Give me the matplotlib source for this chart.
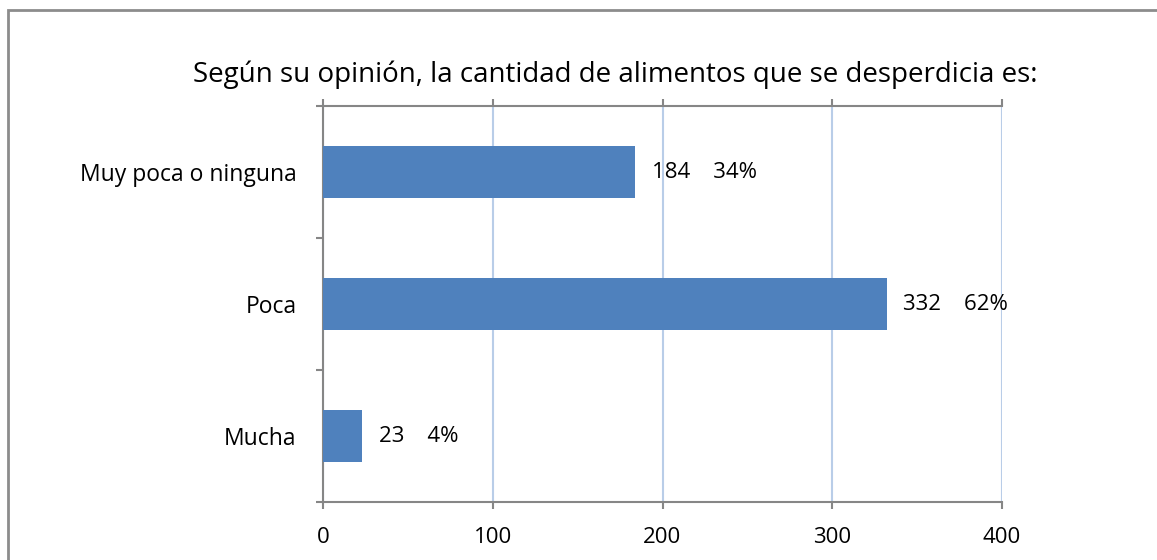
import matplotlib
matplotlib.use("Agg")
import matplotlib.pyplot as plt
from matplotlib.patches import Rectangle

plt.rcParams['font.family'] = ['Open Sans', 'DejaVu Sans']

# datos
categorias = ["Mucha", "Poca", "Muy poca o ninguna"]
valores = [23, 332, 184]
porcentajes = [4, 62, 34]
xticks = [0, 100, 200, 300, 400]
titulo = "Según su opinión, la cantidad de alimentos que se desperdicia es:"

azul = "#4F81BD"
gris = "#868686"
grid_azul = "#B9CDE8"

fig = plt.figure(figsize=(11.57, 5.6), dpi=100)
ax = fig.add_axes([323 / 1157, 58 / 560, 679 / 1157, 396 / 560])

# marco exterior (sale del lienzo por la derecha y abajo)
fig.patches.append(Rectangle((8 / 1157, -0.1), 1.2, 1 - 10 / 560 + 0.1,
                             transform=fig.transFigure, fill=False,
                             edgecolor="#8C8C8C", linewidth=2, zorder=0))

y = list(range(len(categorias)))
ax.barh(y, valores, height=0.4, color=azul, zorder=3)

for yi, v, p in zip(y, valores, porcentajes):
    ax.annotate(f"{v}    {p}%", xy=(v, yi), xytext=(12, 0), textcoords="offset points",
                va="center", ha="left", fontsize=16, color="black")

ax.set_xlim(0, 400)
ax.set_ylim(-0.5, 2.5)
ax.set_xticks(xticks)
ax.set_xticklabels([str(t) for t in xticks], fontsize=16)

ax.set_yticks(y)
ax.set_yticklabels(categorias, fontsize=16.5)
ax.set_yticks([-0.5, 0.5, 1.5, 2.5], minor=True)

ax.grid(axis="x", color=grid_azul, linewidth=1.5, zorder=0)
ax.set_axisbelow(True)

for s in ["left", "top", "bottom"]:
    ax.spines[s].set_color(gris)
    ax.spines[s].set_linewidth(1.5)
ax.spines["right"].set_visible(False)

ax.tick_params(axis="x", which="major", direction="out", length=5, width=1.5,
               color=gris, pad=13, top=True, labeltop=False)
ax.tick_params(axis="y", which="major", length=0, pad=19)
ax.tick_params(axis="y", which="minor", direction="out", length=5, width=1.5, color=gris)

fig.text(615 / 1157, 1 - 75 / 560, titulo, ha="center", va="center", fontsize=20)

fig.savefig("out.png", dpi=100)
